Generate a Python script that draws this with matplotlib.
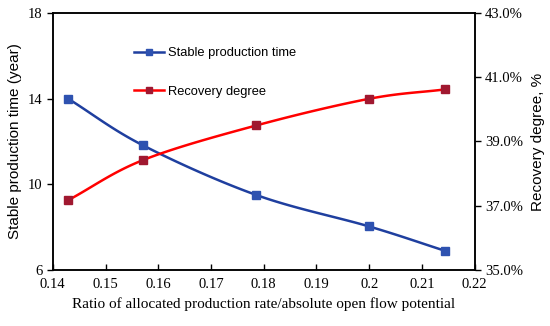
import numpy as np
import matplotlib
matplotlib.use("Agg")
import matplotlib.pyplot as plt

ratio = [0.1429, 0.1571, 0.1786, 0.2000, 0.2143]
stable_time = [14.0, 11.82, 9.5, 8.03, 6.9]
recovery = [37.17, 38.42, 39.5, 40.33, 40.62]

x_ticks = [0.14, 0.15, 0.16, 0.17, 0.18, 0.19, 0.2, 0.21, 0.22]
x_tick_labels = ["0.14", "0.15", "0.16", "0.17", "0.18", "0.19", "0.2", "0.21", "0.22"]
y_ticks = [6, 10, 14, 18]
y2_ticks = [35.0, 37.0, 39.0, 41.0, 43.0]


def smooth(x, y, n=30, t=0.5):
    # Catmull-Rom style smoothing similar to spreadsheet smoothed lines
    x = np.asarray(x, float)
    y = np.asarray(y, float)
    px = np.concatenate([[2 * x[0] - x[1]], x, [2 * x[-1] - x[-2]]])
    py = np.concatenate([[2 * y[0] - y[1]], y, [2 * y[-1] - y[-2]]])
    xs, ys = [], []
    for i in range(1, len(px) - 2):
        p0, p1, p2, p3 = (np.array([px[j], py[j]]) for j in range(i - 1, i + 3))
        c1 = p1 + (p2 - p0) * t / 3
        c2 = p2 - (p3 - p1) * t / 3
        s = np.linspace(0, 1, n)[:, None]
        b = (1 - s) ** 3 * p1 + 3 * (1 - s) ** 2 * s * c1 + 3 * (1 - s) * s ** 2 * c2 + s ** 3 * p2
        xs.append(b[:, 0])
        ys.append(b[:, 1])
    return np.concatenate(xs), np.concatenate(ys)


fig = plt.figure(figsize=(5.5, 3.26), dpi=100)
ax = fig.add_axes([0.096, 0.172, 0.767, 0.788])
ax2 = ax.twinx()

serif = "Liberation Serif"
sans = "Liberation Sans"

blue_line = "#1F3F9F"
blue_marker = "#2E52B0"
red_line = "#FF0000"
red_marker = "#A01830"

sx, sy = smooth(ratio, stable_time)
ax.plot(sx, sy, color=blue_line, lw=1.8, zorder=3)
ax.plot(ratio, stable_time, ls="none", marker="s", ms=5.2, color=blue_marker, zorder=4)

rx, ry = smooth(ratio, recovery)
ax2.plot(rx, ry, color=red_line, lw=1.8, zorder=3)
ax2.plot(ratio, recovery, ls="none", marker="s", ms=5.2, color=red_marker, zorder=4)

ax.set_xlim(0.14, 0.22)
ax.set_ylim(6, 18)
ax2.set_ylim(35, 43)

ax.set_xticks(x_ticks)
ax.set_xticklabels(x_tick_labels, fontfamily=serif, fontsize=10.5)
ax.set_yticks(y_ticks)
ax.set_yticklabels([str(v) for v in y_ticks], fontfamily=serif, fontsize=10.5)
ax2.set_yticks(y2_ticks)
ax2.set_yticklabels([f"{v:.1f}%" for v in y2_ticks], fontfamily=serif, fontsize=10.5)

ax.tick_params(axis="x", direction="in", length=4, width=1, pad=6)
ax.tick_params(axis="y", direction="out", length=4, width=1)
ax2.tick_params(axis="y", direction="out", length=4, width=1)

for a in (ax, ax2):
    for sp in a.spines.values():
        sp.set_linewidth(1.1)

ax.set_xlabel("Ratio of allocated production rate/absolute open flow potential",
              fontfamily=serif, fontsize=11, labelpad=4)
ax.set_ylabel("Stable production time (year)", fontfamily=sans, fontsize=11, labelpad=4)
ax2.set_ylabel("Recovery degree, %", fontfamily=sans, fontsize=11, labelpad=6)

h1 = plt.Line2D([], [], color=blue_line, lw=1.8, marker="s", ms=4,
                markerfacecolor=blue_marker, markeredgecolor=blue_marker)
h2 = plt.Line2D([], [], color=red_line, lw=1.8, marker="s", ms=4,
                markerfacecolor=red_marker, markeredgecolor=red_marker)
leg = ax.legend([h1, h2], ["Stable production time", "Recovery degree"],
                loc="upper left", bbox_to_anchor=(0.165, 0.913), frameon=False,
                prop={"family": sans, "size": 9.3}, labelspacing=2.05,
                handlelength=2.35, handletextpad=0.3)

fig.savefig("out.png", dpi=100)
